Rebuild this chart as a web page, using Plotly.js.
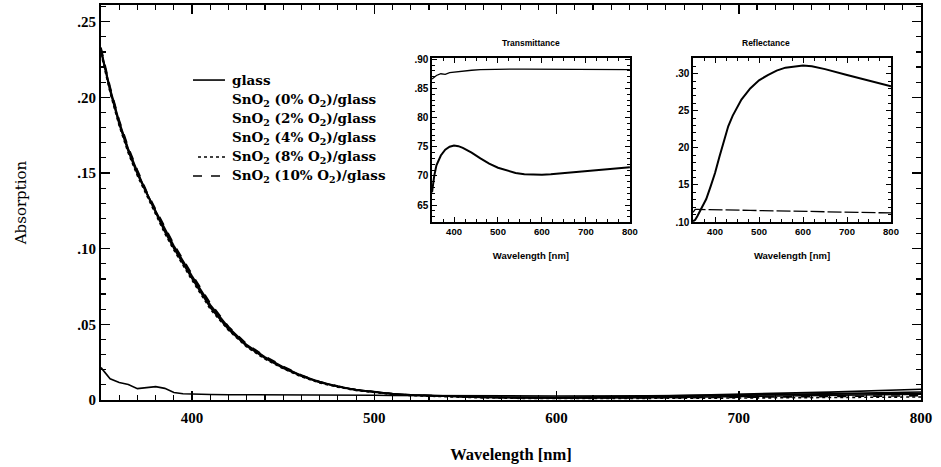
<!DOCTYPE html>
<html>
<head>
<meta charset="utf-8">
<script src="https://cdn.plot.ly/plotly-3.0.1.min.js"></script>
<style>html,body{margin:0;padding:0;background:#fff;}#chart{width:941px;height:467px;}</style>
</head>
<body>
<div id="chart"></div>
<script>
// ---- main plot data: absorption ----
const wl = [350,355,360,365,370,375,380,385,390,395,400,410,420,430,440,450,460,470,480,490,500,510,520,540,560,580,600,650,700,750,800];
const absGlass = [0.0214,0.0140,0.0115,0.0103,0.0075,0.0080,0.0088,0.0077,0.0050,0.0041,0.0038,0.0036,0.0035,0.0035,0.0034,0.0034,0.0033,0.0033,0.0032,0.0032,0.0031,0.0030,0.0029,0.0027,0.0026,0.0026,0.0026,0.0028,0.0032,0.0038,0.0045];
const absSn0 = [0.232,0.205,0.183,0.165,0.150,0.137,0.124,0.112,0.101,0.091,0.081,0.062,0.047,0.036,0.028,0.0215,0.016,0.0118,0.0089,0.0067,0.0052,0.0041,0.0034,0.0025,0.0020,0.0018,0.0018,0.0025,0.0037,0.0052,0.0071];
const absSn2 = [0.230,0.204,0.182,0.164,0.149,0.136,0.123,0.111,0.100,0.090,0.080,0.061,0.0465,0.0355,0.0275,0.021,0.0157,0.0116,0.0087,0.0065,0.0050,0.0039,0.0032,0.0023,0.0018,0.0016,0.0015,0.0020,0.0030,0.0041,0.0053];
const absSn4 = [0.231,0.206,0.184,0.166,0.151,0.137,0.125,0.113,0.102,0.092,0.082,0.063,0.048,0.0365,0.0285,0.0218,0.0162,0.0120,0.0090,0.0068,0.0053,0.0041,0.0033,0.0023,0.0017,0.0014,0.0012,0.0015,0.0022,0.0030,0.0038];
const absSn8 = [0.229,0.203,0.181,0.163,0.148,0.135,0.122,0.110,0.099,0.089,0.079,0.060,0.046,0.035,0.027,0.0207,0.0153,0.0113,0.0085,0.0063,0.0048,0.0037,0.0029,0.0020,0.0014,0.0011,0.0010,0.0011,0.0013,0.0016,0.0020];
const absSn10 = [0.233,0.207,0.185,0.167,0.152,0.138,0.126,0.114,0.103,0.093,0.083,0.064,0.0485,0.037,0.029,0.0222,0.0165,0.0122,0.0092,0.0069,0.0054,0.0042,0.0034,0.0024,0.0017,0.0013,0.0012,0.0014,0.0018,0.0023,0.0028];

const seriesNames = ['glass','SnO<sub>2</sub> (0% O<sub>2</sub>)/glass','SnO<sub>2</sub> (2% O<sub>2</sub>)/glass','SnO<sub>2</sub> (4% O<sub>2</sub>)/glass','SnO<sub>2</sub> (8% O<sub>2</sub>)/glass','SnO<sub>2</sub> (10% O<sub>2</sub>)/glass'];

// ---- inset: transmittance ----
const wlT = [350,355,360,370,380,390,400,410,420,440,460,480,500,520,540,560,580,600,620,650,700,750,800];
const transGlass = [0.866,0.869,0.872,0.875,0.874,0.877,0.878,0.879,0.880,0.881,0.882,0.8825,0.883,0.883,0.883,0.883,0.883,0.883,0.883,0.883,0.8828,0.8825,0.882];
const transSn = [0.672,0.700,0.718,0.735,0.745,0.750,0.752,0.751,0.748,0.740,0.730,0.721,0.714,0.709,0.705,0.703,0.702,0.702,0.703,0.705,0.708,0.712,0.715];

// ---- inset: reflectance ----
const wlR = [350,355,360,370,380,390,400,410,420,430,440,450,460,480,500,520,540,560,580,600,620,650,700,750,800];
const reflSn = [0.101,0.103,0.108,0.119,0.131,0.148,0.166,0.188,0.209,0.229,0.243,0.255,0.265,0.280,0.291,0.298,0.304,0.308,0.310,0.311,0.310,0.306,0.298,0.290,0.283];
const reflGlass = [0.113,0.117,0.117,0.1168,0.1167,0.1166,0.1165,0.1164,0.1163,0.1162,0.1161,0.116,0.1159,0.1157,0.1155,0.1153,0.1151,0.1149,0.1147,0.1145,0.1143,0.114,0.1133,0.1127,0.1122];

// tick labels
const mainXTicks = [400,450,500,550,600,650,700,750,800];
const mainXText = ['400','','500','','600','','700','','800'];
const mainYTicks = [0,0.05,0.10,0.15,0.20,0.25];
const mainYText = ['0','.05','.10','.15','.20','.25'];
const insetXTicks = [400,500,600,700,800];
const insetXText = ['400','500','600','700','800'];
const transYTicks = [0.65,0.70,0.75,0.80,0.85,0.90];
const transYText = ['65','70','75','80','.85','.90'];
const reflYTicks = [0.10,0.15,0.20,0.25,0.30];
const reflYText = ['.10','15','20','25','.30'];

function range(a,b,s){const r=[];for(let v=a;v<=b+1e-9;v+=s)r.push(+v.toFixed(4));return r;}

const serif = 'Liberation Serif, Times New Roman, serif';
const wideSerif = 'DejaVu Serif, serif';
const sans = 'Liberation Sans, Arial, sans-serif';
const K = '#000';

const traces = [];
const absSets = [absGlass,absSn0,absSn2,absSn4,absSn8,absSn10];
const dashes = ['solid','solid','solid','solid','dot','dash'];
absSets.forEach((ys,i)=>{
  traces.push({x:wl,y:ys,type:'scatter',mode:'lines',name:seriesNames[i],
    line:{color:K,width:1.6,dash:dashes[i]},showlegend:false,xaxis:'x',yaxis:'y'});
});
traces.push({x:wlT,y:transGlass,type:'scatter',mode:'lines',line:{color:K,width:1.3},showlegend:false,xaxis:'x2',yaxis:'y2'});
traces.push({x:wlT,y:transSn,type:'scatter',mode:'lines',line:{color:K,width:2},showlegend:false,xaxis:'x2',yaxis:'y2'});
traces.push({x:wlR,y:reflSn,type:'scatter',mode:'lines',line:{color:K,width:2},showlegend:false,xaxis:'x3',yaxis:'y3'});
traces.push({x:wlR,y:reflGlass,type:'scatter',mode:'lines',line:{color:K,width:1.3,dash:'14px,3px'},showlegend:false,xaxis:'x3',yaxis:'y3'});

// hand-placed legend (rows in paper coordinates)
const legendRowsY = [0.8100,0.7595,0.7114,0.6633,0.6152,0.5671];
const legendSymbols = [
  {row:0,x0:0.1122,dash:'solid'},
  {row:4,x0:0.1183,dash:'dot'},
  {row:5,x0:0.1122,dash:'dash'}
];
const annotations = [
  {text:'Transmittance',xref:'paper',yref:'paper',x:0.524,y:0.903,yanchor:'middle',showarrow:false,font:{family:sans,size:8.5,color:K,weight:'bold'}},
  {text:'Reflectance',xref:'paper',yref:'paper',x:0.843,y:0.903,yanchor:'middle',showarrow:false,font:{family:sans,size:8.5,color:K,weight:'bold'}}
];
seriesNames.forEach((n,i)=>{
  annotations.push({text:n,xref:'paper',yref:'paper',x:0.1575,y:legendRowsY[i],xanchor:'left',yanchor:'middle',
    showarrow:false,font:{family:wideSerif,size:13.5,color:K,weight:'bold'}});
});
const shapes = legendSymbols.map(s=>({type:'line',xref:'paper',yref:'paper',x0:s.x0,x1:0.1512,
  y0:legendRowsY[s.row],y1:legendRowsY[s.row],line:{color:K,width:1.6,dash:s.dash}}));

const insetAxisX = (dom, anchor)=>({domain:dom,anchor:anchor,range:[350,800],showline:true,linewidth:1.6,linecolor:K,mirror:'allticks',
  ticks:'inside',ticklen:5,tickwidth:1,tickcolor:K,tickmode:'array',tickvals:insetXTicks,ticktext:insetXText,
  minor:{tickmode:'array',tickvals:range(350,800,25),ticks:'inside',ticklen:3,tickcolor:K},
  showgrid:false,zeroline:false,tickfont:{family:sans,size:9.5,color:K,weight:'bold'},
  title:{text:'Wavelength [nm]',font:{family:sans,size:9.5,color:K,weight:'bold'},standoff:16}});

const layout = {
  width:941,height:467,paper_bgcolor:'#fff',plot_bgcolor:'#fff',
  margin:{l:101,r:20,t:5,b:67},
  showlegend:false,
  xaxis:{domain:[0,1],range:[350,800],showline:true,linewidth:2,linecolor:K,mirror:'allticks',
    ticks:'inside',ticklen:9,tickwidth:1.5,tickcolor:K,tickmode:'array',tickvals:mainXTicks,ticktext:mainXText,
    minor:{tickmode:'array',tickvals:range(350,800,10),ticks:'inside',ticklen:5,tickwidth:1.2,tickcolor:K},
    showgrid:false,zeroline:false,tickfont:{family:serif,size:15,color:K,weight:'bold'},ticklabelstandoff:3,
    title:{text:'Wavelength [nm]',font:{family:serif,size:16.5,color:K,weight:'bold'},standoff:23}},
  yaxis:{domain:[0,1],range:[0,0.261],anchor:'x',showline:true,linewidth:2,linecolor:K,mirror:'allticks',
    ticks:'inside',ticklen:9,tickwidth:1.5,tickcolor:K,tickmode:'array',tickvals:mainYTicks,ticktext:mainYText,
    minor:{tickmode:'array',tickvals:range(0,0.26,0.01),ticks:'inside',ticklen:5,tickwidth:1.2,tickcolor:K},
    showgrid:false,zeroline:false,tickfont:{family:serif,size:15,color:K,weight:'bold'},
    title:{text:'Absorption',font:{family:wideSerif,size:15,color:K},standoff:47}},
  xaxis2:insetAxisX([0.4037,0.645],'y2'),
  yaxis2:{domain:[0.4506,0.8658],anchor:'x2',range:[0.621,0.902],showline:true,linewidth:1.6,linecolor:K,mirror:'allticks',
    ticks:'inside',ticklen:5,tickwidth:1,tickcolor:K,tickmode:'array',tickvals:transYTicks,ticktext:transYText,
    minor:{tickmode:'array',tickvals:range(0.63,0.90,0.01),ticks:'inside',ticklen:3,tickcolor:K},
    showgrid:false,zeroline:false,tickfont:{family:sans,size:10,color:K,weight:'bold'}},
  xaxis3:insetAxisX([0.722,0.9634],'y3'),
  yaxis3:{domain:[0.4506,0.8658],anchor:'x3',range:[0.10,0.321],showline:true,linewidth:1.6,linecolor:K,mirror:'allticks',
    ticks:'inside',ticklen:5,tickwidth:1,tickcolor:K,tickmode:'array',tickvals:reflYTicks,ticktext:reflYText,
    minor:{tickmode:'array',tickvals:range(0.11,0.32,0.01),ticks:'inside',ticklen:3,tickcolor:K},
    showgrid:false,zeroline:false,tickfont:{family:sans,size:10,color:K,weight:'bold'}},
  annotations:annotations,
  shapes:shapes
};

Plotly.newPlot('chart',traces,layout,{displayModeBar:false,staticPlot:true});
</script>
</body>
</html>
